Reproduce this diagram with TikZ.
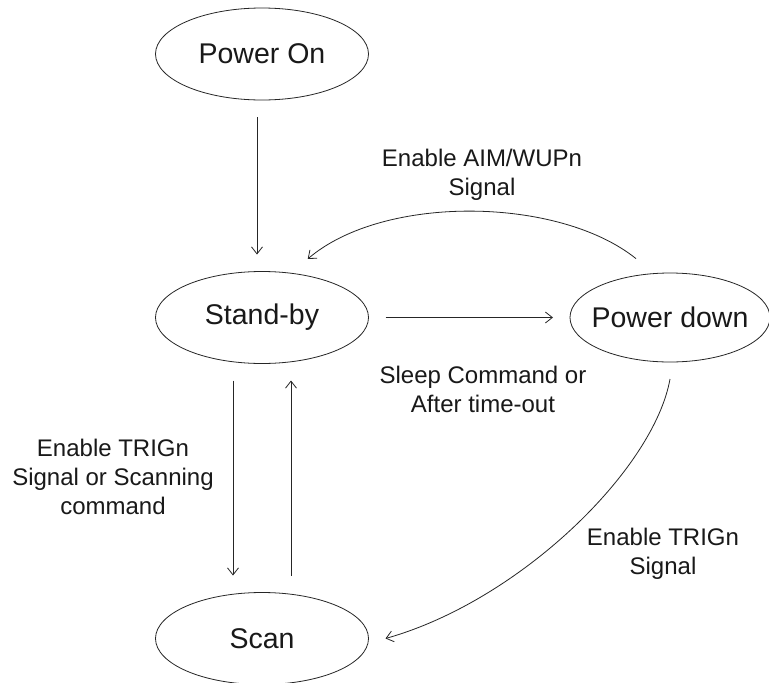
\documentclass[tikz,border=0pt]{standalone}
\usepackage{fontspec}
\setmainfont{Liberation Sans}
\usetikzlibrary{arrows.meta,shapes.geometric}
\begin{document}
\begin{tikzpicture}[x=1pt,y=-1pt,
  state/.style={ellipse,draw=black!85,line width=0.8pt,minimum width=213pt,minimum height=92pt,
    inner xsep=-40pt,inner ysep=0pt,outer sep=17pt,font=\fontsize{28.5}{34}\selectfont,text=black!90},
  lbl/.style={align=center,font=\fontsize{24}{29}\selectfont,text=black!90,inner sep=0pt},
  arr/.style={draw=black!85,line width=0.8pt,-{Straight Barb[length=7pt,width=11pt]}}]
\clip (0,0) rectangle (769,683);
\fill[white] (0,0) rectangle (769,683);
\node[state] (po) at (262,54) {Power On};
\node[state] (sb) at (262,317.5) {Stand-by};
\node[state,minimum width=200pt,minimum height=89pt] (pd) at (670,317.5) {Power down};
\node[state] (sc) at (262,638.5) {Scan};
\node[lbl] (l1) at (482,175) {Enable AIM/WUPn\\Signal};
\node[lbl] (l2) at (483,389) {Sleep Command or\\After time-out};
\node[lbl] (l3) at (113,477) {Enable TRIGn\\Signal or Scanning\\command};
\node[lbl] (l4) at (663,554) {Enable TRIGn\\Signal};
\draw[arr] ([xshift=-5pt]po.south) -- ([xshift=-5pt]sb.north);
\draw[arr] (sb.east) -- (pd.west);
\draw[arr] (pd.120) .. controls +(-77,-62) and +(76,-65) .. (sb.52);
\draw[arr] ([xshift=-29pt]sb.south) -- ([xshift=-29pt]sc.north);
\draw[arr] ([xshift=29pt]sc.north) -- ([xshift=29pt]sb.south);
\draw[arr] (pd.south) .. controls +(-16,90) and +(135,-38) .. (sc.east);
\end{tikzpicture}
\end{document}
